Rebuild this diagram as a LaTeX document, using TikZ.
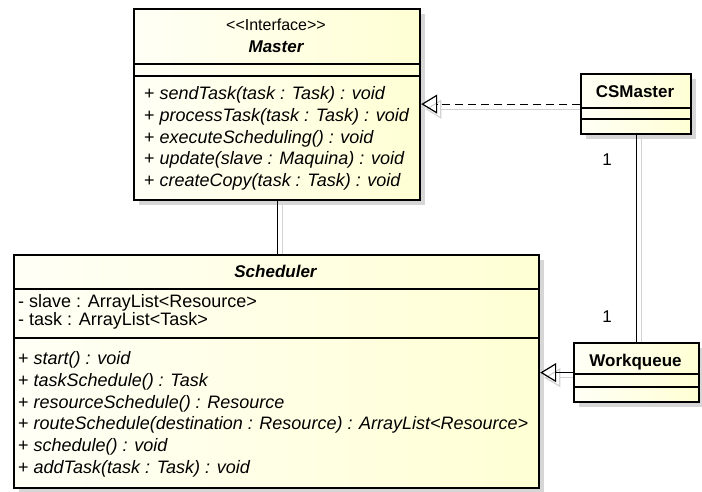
\documentclass[tikz,border=0pt]{standalone}
\usepackage{fontspec}
\setmainfont{Liberation Sans}
\newfontfamily\umlfont{Liberation Sans}[WordSpace=0.7]
\newfontfamily\umltitlefont{Liberation Sans}
\usetikzlibrary{arrows.meta}
\definecolor{fillA}{HTML}{FFFFF6}
\definecolor{fillB}{HTML}{FFFFD4}
\definecolor{boxshade}{HTML}{D6D6D6}
\definecolor{lineshade}{HTML}{D2D2D2}
\tikzset{
  classbox/.style={draw=black, line width=2.2pt, left color=fillA, right color=fillB,
    inner sep=0pt, anchor=north west},
  shadebox/.style={fill=boxshade, draw=none, inner sep=0pt, anchor=north west},
  sepline/.style={draw=black, line width=1.2pt},
  conn/.style={draw=black, line width=1.2pt},
  connshade/.style={draw=lineshade, line width=1.2pt},
  realize/.style={conn, dash pattern=on 8pt off 5pt},
  hollowtip/.style={-{Triangle[open, length=16pt, width=19pt, line width=1.2pt]}},
  txt/.style={inner sep=0pt, font=\umlfont\fontsize{18}{21}\selectfont},
  mem/.style={txt, anchor=base west},
  stereo/.style={txt, anchor=base, font=\umltitlefont\fontsize{16}{19}\selectfont},
  absname/.style={txt, anchor=base, font=\umltitlefont\bfseries\itshape\fontsize{17}{20}\selectfont},
  cname/.style={txt, anchor=base, font=\umltitlefont\bfseries\fontsize{17}{20}\selectfont},
  mult/.style={txt, anchor=center, font=\umltitlefont\fontsize{17}{20}\selectfont}
}
\begin{document}
\begin{tikzpicture}[x=1pt, y=-1pt]
\useasboundingbox (0,0) rectangle (702,491);
\fill[white] (0,0) rectangle (702,491);

% ---------- shadows ----------
\begin{scope}[shift={(6,6)}]
  \node[shadebox, minimum width=286pt, minimum height=191pt] (mastershd) at (133,8) {};
  \node[shadebox, minimum width=110pt, minimum height=60pt] (csmshd) at (580,73) {};
  \node[shadebox, minimum width=525pt, minimum height=233pt] (schedshd) at (13,254) {};
  \node[shadebox, minimum width=125pt, minimum height=59pt] (wqshd) at (573,342) {};
  \draw[connshade] (mastershd.south) -- (mastershd.south |- schedshd.north);
  \draw[connshade] (csmshd.south) -- (csmshd.south |- wqshd.north);
  \draw[connshade, -{Triangle[open, length=16pt, width=19pt, line width=1.2pt]}]
     (csmshd.west) -- (csmshd.west -| mastershd.east);
  \draw[connshade, -{Triangle[open, length=16pt, width=19pt, line width=1.2pt]}]
     (wqshd.west) -- (wqshd.west -| schedshd.east);
\end{scope}

% ---------- boxes ----------
\node[classbox, minimum width=286pt, minimum height=191pt] (master) at (133,8) {};
\node[classbox, minimum width=110pt, minimum height=60pt] (csm) at (580,73) {};
\node[classbox, minimum width=525pt, minimum height=233pt] (sched) at (13,254) {};
\node[classbox, minimum width=125pt, minimum height=59pt] (wq) at (573,342) {};

% ---------- connectors ----------
\draw[conn] (master.south) -- (master.south |- sched.north);
\draw[conn] (csm.south) -- (csm.south |- wq.north);
\draw[realize, hollowtip] (csm.west) -- (csm.west -| master.east);
\draw[conn, hollowtip] (wq.west) -- (wq.west -| sched.east);

% ---------- Master ----------
\draw[sepline] (master.west |- 0,64) -- (master.east |- 0,64);
\draw[sepline] (master.west |- 0,76) -- (master.east |- 0,76);
\node[stereo] (mstereo) at (276,30) {<<Interface>>};
\node[absname] (mname) at (276,52) {Master};
\node[mem] (m1) at (144,99) {+ \textit{sendTask(task : Task) : void}};
\node[mem] (m2) at (144,121) {+ \textit{processTask(task : Task) : void}};
\node[mem] (m3) at (144,143) {+ \textit{executeScheduling() : void}};
\node[mem] (m4) at (144,164) {+ \textit{update(slave : Maquina) : void}};
\node[mem] (m5) at (144,186) {+ \textit{createCopy(task : Task) : void}};

% ---------- CSMaster ----------
\draw[sepline] (csm.west |- 0,108) -- (csm.east |- 0,108);
\draw[sepline] (csm.west |- 0,119) -- (csm.east |- 0,119);
\node[cname] (csmname) at (635,97) {CSMaster};

% ---------- Scheduler ----------
\draw[sepline] (sched.west |- 0,289) -- (sched.east |- 0,289);
\draw[sepline] (sched.west |- 0,338) -- (sched.east |- 0,338);
\node[absname] (sname) at (275.5,277) {Scheduler};
\node[mem] (a1) at (18,307) {- slave : ArrayList<Resource>};
\node[mem] (a2) at (18,325) {- task : ArrayList<Task>};
\node[mem] (s1) at (18,364) {+ \textit{start() : void}};
\node[mem] (s2) at (18,386) {+ \textit{taskSchedule() : Task}};
\node[mem] (s3) at (18,408) {+ \textit{resourceSchedule() : Resource}};
\node[mem] (s4) at (18,429) {+ \textit{routeSchedule(destination : Resource) : ArrayList<Resource>}};
\node[mem] (s5) at (18,451) {+ \textit{schedule() : void}};
\node[mem] (s6) at (18,473) {+ \textit{addTask(task : Task) : void}};

% ---------- Workqueue ----------
\draw[sepline] (wq.west |- 0,374) -- (wq.east |- 0,374);
\draw[sepline] (wq.west |- 0,387) -- (wq.east |- 0,387);
\node[cname] (wqname) at (635.5,366) {Workqueue};

% ---------- multiplicities ----------
\node[mult] (mult1) at (607,160) {1};
\node[mult] (mult2) at (607,317) {1};
\end{tikzpicture}
\end{document}
